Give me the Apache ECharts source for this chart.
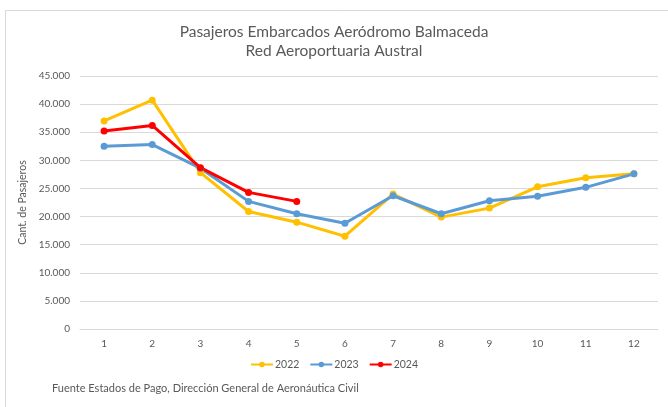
<!DOCTYPE html>
<html>
<head>
<meta charset="utf-8">
<script src="https://cdn.jsdelivr.net/npm/echarts@6/dist/echarts.min.js"></script>
<style>
  html, body { margin: 0; padding: 0; background: #fff; }
  #chart { width: 668px; height: 407px; }
</style>
</head>
<body>
<div id="chart"></div>
<script>
const months = ['1', '2', '3', '4', '5', '6', '7', '8', '9', '10', '11', '12']
const pax2022 = [37000, 40700, 27800, 20900, 19000, 16500, 24000, 19900, 21500, 25300, 26900, 27600]
const pax2023 = [32500, 32800, 28600, 22700, 20500, 18800, 23700, 20500, 22800, 23600, 25200, 27600]
const pax2024 = [35200, 36200, 28700, 24300, 22700]

const font = 'Lato, "Open Sans", sans-serif'

function lineSeries(name, color, data) {
  return {
    name,
    type: 'line',
    data,
    symbol: 'circle',
    symbolSize: 7,
    lineStyle: { color, width: 3 },
    itemStyle: { color },
    emphasis: { disabled: true }
  }
}

const chart = echarts.init(document.getElementById('chart'))
chart.setOption({
  backgroundColor: '#fff',
  animation: false,
  textStyle: { fontFamily: font },
  graphic: [{
    type: 'rect',
    shape: { x: 5.5, y: 10.5, width: 700, height: 420 },
    style: { fill: 'none', stroke: '#d9d9d9', lineWidth: 1 }
  }, {
    type: 'text',
    left: 52,
    top: 383,
    style: {
      text: 'Fuente Estados de Pago, Dirección General de Aeronáutica Civil',
      fill: '#595959',
      font: '11px ' + font
    }
  }],
  title: {
    text: 'Pasajeros Embarcados Aeródromo Balmaceda\nRed Aeroportuaria Austral',
    left: 'center',
    top: 17,
    textStyle: {
      color: '#595959',
      fontSize: 15.5,
      fontWeight: 'normal',
      lineHeight: 19,
      fontFamily: font
    }
  },
  legend: {
    bottom: 32,
    left: 'center',
    itemWidth: 22,
    itemHeight: 7,
    itemGap: 10,
    textStyle: { color: '#595959', fontSize: 10.5, fontFamily: font, padding: [0, 0, 0, -3] },
    data: ['2022', '2023', '2024']
  },
  grid: { left: 80, right: 10, top: 76, bottom: 78 },
  xAxis: {
    type: 'category',
    data: months,
    axisLine: { lineStyle: { color: '#d9d9d9' } },
    axisTick: { show: false },
    axisLabel: { color: '#595959', fontSize: 10, margin: 10 }
  },
  yAxis: {
    type: 'value',
    min: 0,
    max: 45000,
    interval: 5000,
    name: 'Cant. de Pasajeros',
    nameLocation: 'middle',
    nameGap: 44,
    nameTextStyle: { color: '#595959', fontSize: 10.5 },
    axisLine: { show: false },
    axisTick: { show: false },
    splitLine: { lineStyle: { color: '#d9d9d9' } },
    axisLabel: {
      color: '#595959',
      fontSize: 10,
      margin: 10,
      formatter: v => v.toString().replace(/\B(?=(\d{3})+(?!\d))/g, '.')
    }
  },
  series: [
    lineSeries('2022', '#ffc000', pax2022),
    lineSeries('2023', '#5b9bd5', pax2023),
    lineSeries('2024', '#ff0000', pax2024)
  ]
})
</script>
</body>
</html>
